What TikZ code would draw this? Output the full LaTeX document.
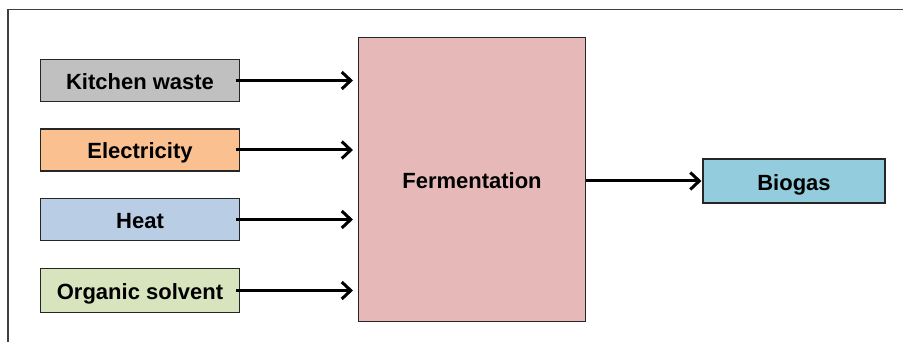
\documentclass[tikz,border=0pt]{standalone}
\usepackage{fontspec}
\setmainfont{Liberation Sans}
\usetikzlibrary{arrows.meta}
\definecolor{kwgray}{HTML}{C0C0C0}
\definecolor{elorange}{HTML}{FAC090}
\definecolor{htblue}{HTML}{B9CDE5}
\definecolor{osgreen}{HTML}{D7E4BD}
\definecolor{fmpink}{HTML}{E6B9B8}
\definecolor{bgcyan}{HTML}{93CDDD}
\definecolor{edge}{HTML}{262626}
\tikzset{
  box/.style={draw=edge, line width=1.1pt, rectangle, inner sep=0pt,
    text height=18pt, text depth=0pt,
    font=\fontsize{22}{26}\selectfont\bfseries, text=black},
  inbox/.style={box, minimum width=199pt, minimum height=42pt},
  flow/.style={line width=3pt, -{Straight Barb[length=9pt, width=17pt, line width=3pt]}},
  frameline/.style={draw=black!75, line width=1.3pt}
}
\begin{document}
\begin{tikzpicture}[x=1pt, y=-1pt]
  \useasboundingbox (0,0) rectangle (903,342);
  % outer frame edges
  \coordinate (ftl) at (8,9.5);
  \coordinate (ftr) at (903,9.5);
  \coordinate (fbl) at (8,342);
  \draw[frameline] (ftr) -- (ftl) -- (fbl);

  % inputs
  \node[inbox, fill=kwgray]   (kw) at (140,80.5)  {Kitchen waste};
  \node[inbox, fill=elorange] (el) at (140,150)   {Electricity};
  \node[inbox, fill=htblue]   (ht) at (140,219.5) {Heat};
  \node[inbox, fill=osgreen, minimum height=44pt] (os) at (140,290.5) {Organic solvent};

  % process and product
  \node[box, fill=fmpink, minimum width=227pt, minimum height=284pt] (fm) at (472,179.5) {Fermentation};
  \node[box, fill=bgcyan, minimum width=182pt, minimum height=44pt] (bg) at (794,181) {Biogas};

  % flows
  \draw[flow] ([xshift=-4pt]kw.east) -- ([xshift=-5pt]kw.east -| fm.west);
  \draw[flow] ([xshift=-4pt]el.east) -- ([xshift=-5pt]el.east -| fm.west);
  \draw[flow] ([xshift=-4pt]ht.east) -- ([xshift=-5pt]ht.east -| fm.west);
  \draw[flow] ([xshift=-4pt]os.east) -- ([xshift=-5pt]os.east -| fm.west);
  \draw[flow] (fm.east |- bg.west) -- ([xshift=-1pt]bg.west);
\end{tikzpicture}
\end{document}
